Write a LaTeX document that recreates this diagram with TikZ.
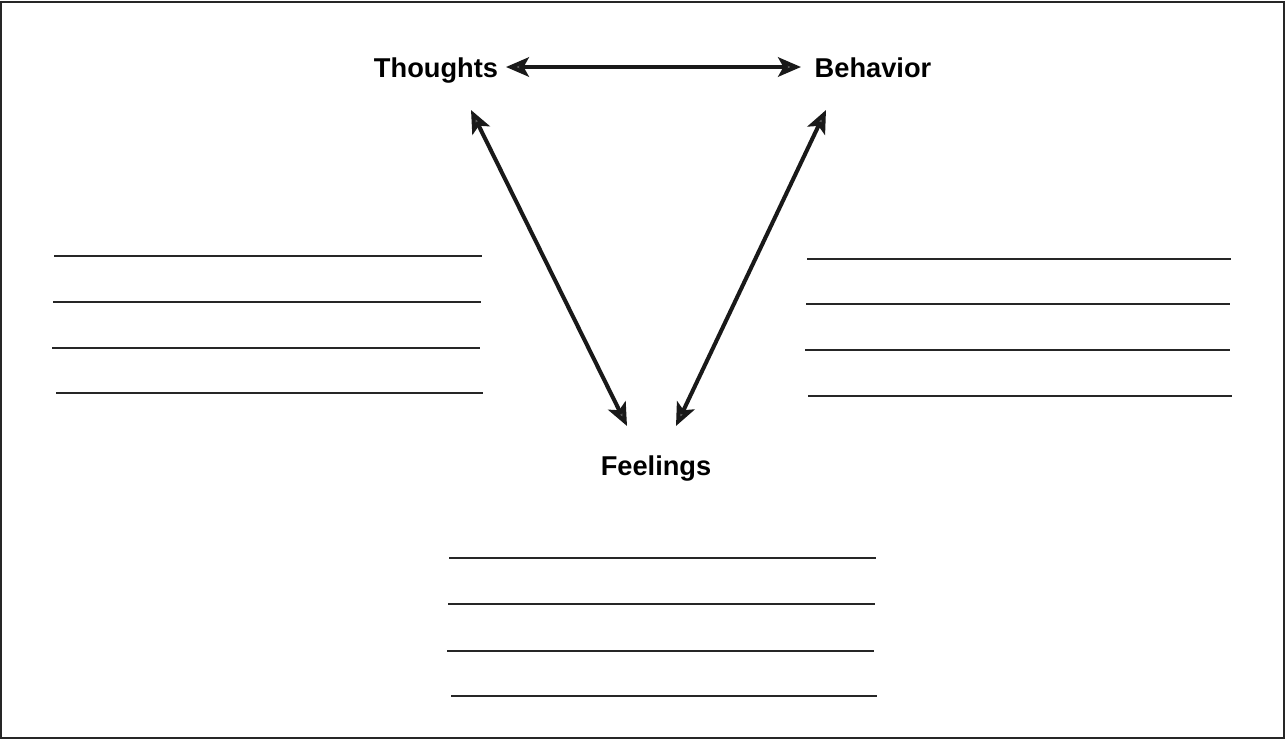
\documentclass[tikz,border=0pt]{standalone}
\usepackage{fontspec}
\setmainfont{Liberation Sans}
\usetikzlibrary{arrows.meta}
\begin{document}
\begin{tikzpicture}[x=0.02cm,y=-0.02cm,
  lbl/.style={font=\bfseries\fontsize{15.5}{18}\selectfont, inner sep=2pt, anchor=base},
  rule/.style={line width=0.7pt, black!85},
  link/.style={line width=2.3pt, black!90, {Stealth[length=13pt,width=11pt,inset=3pt,fill=black!60]}-{Stealth[length=13pt,width=11pt,inset=3pt,fill=black!60]}}]
\useasboundingbox (0,0) rectangle (1286,741);
\draw[line width=1.2pt, black!85] (1,2) rectangle (1284,738);
\node[lbl] (t) at (436,77) {Thoughts};
\node[lbl] (b) at (873,77) {Behavior};
\node[lbl] (f) at (656,475) {Feelings};
\coordinate (h1) at (506,67);
\coordinate (h2) at (801,67);
\coordinate (l1) at (471,110);
\coordinate (l2) at (627,426);
\coordinate (r1) at (826,110);
\coordinate (r2) at (676,426);
\draw[link] (h1) -- (h2);
\draw[link] (l1) -- (l2);
\draw[link] (r1) -- (r2);
% left lines
\foreach \i/\y/\a/\b in {1/256/54/482, 2/302/53/481, 3/348/52/480, 4/393/56/483}{
  \coordinate (la\i) at (\a,\y); \coordinate (lb\i) at (\b,\y);
  \draw[rule] (la\i) -- (lb\i);}
% right lines
\foreach \i/\y/\a/\b in {1/259/807/1231, 2/304/806/1230, 3/350/805/1230, 4/396/808/1232}{
  \coordinate (ra\i) at (\a,\y); \coordinate (rb\i) at (\b,\y);
  \draw[rule] (ra\i) -- (rb\i);}
% bottom lines
\foreach \i/\y/\a/\b in {1/558/449/876, 2/604/448/875, 3/651/447/874, 4/696/451/877}{
  \coordinate (ba\i) at (\a,\y); \coordinate (bb\i) at (\b,\y);
  \draw[rule] (ba\i) -- (bb\i);}
\end{tikzpicture}
\end{document}
